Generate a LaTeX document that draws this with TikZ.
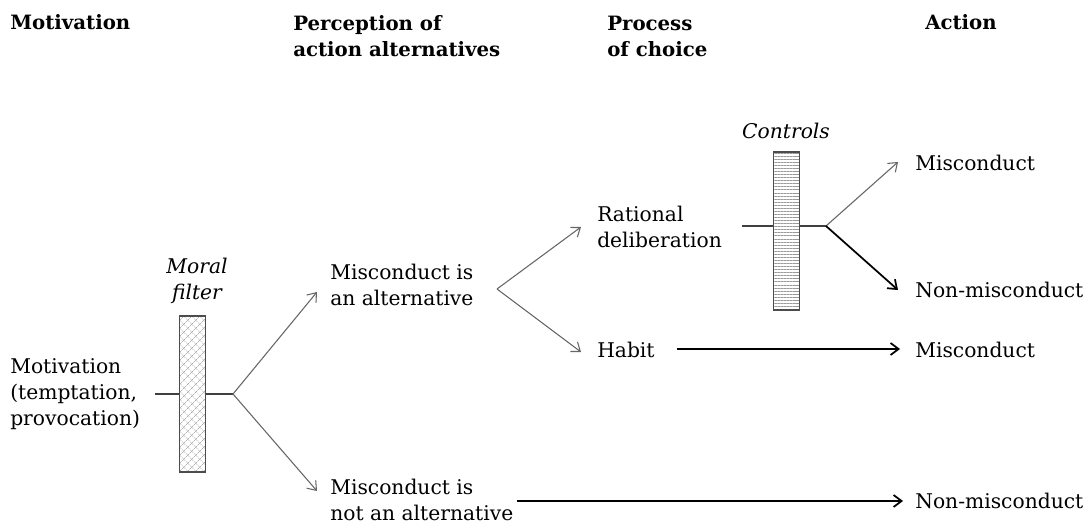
\documentclass[tikz,border=0pt]{standalone}
\usepackage{fontspec}
\setmainfont{DejaVu Serif}
\usepackage{tikz}
\usetikzlibrary{calc, positioning, arrows.meta, patterns.meta}
\tikzset{lbl/.style={anchor=west, align=left, inner sep=0pt, font=\fontsize{15.2}{19.5}\selectfont},
head/.style={lbl, font=\fontsize{14.8}{19.5}\selectfont\bfseries},
filterlbl/.style={align=center, inner sep=0pt, font=\fontsize{15.2}{19.5}\selectfont\itshape},
filterbox/.style={draw=black!70, line width=0.8pt, minimum width=20pt, inner sep=0pt},
thinline/.style={draw=black!75, line width=0.8pt},
grayarr/.style={draw=black!60, line width=0.8pt, -{Straight Barb[length=6pt,width=9pt]}},
blackarr/.style={draw=black, line width=1.3pt, -{Straight Barb[length=6pt,width=9pt]}}}

\begin{document}
\begin{tikzpicture}[x=0.75pt,y=-0.75pt]
 \useasboundingbox (0,0) rectangle (1092,524);

 %Column headings
 \node[head] (hmot) at (10,22) {Motivation};
 \node[head] (hper) at (293,36) {Perception of\\action alternatives};
 \node[head] (hpro) at (607,36) {Process\\of choice};
 \node[head] (hact) at (925,22) {Action};

 %Motivation and moral filter
 \node[lbl] (mot) at (10,394) {Motivation\\(temptation,\\provocation)};
 \node[filterbox, minimum height=117pt, pattern={Hatch[angle=45,distance=4pt,line width=0.4pt]}, pattern color=black!30] (moral) at (192.5,394) {};
 \node[filterlbl] (morallbl) at (197,281) {Moral\\filter};
 \coordinate (in1) at (155,394);
 \coordinate (b1) at (233,394);
 \draw[thinline] (in1) -- (moral.west);
 \draw[thinline] (moral.east) -- (b1);

 %Perception of alternatives
 \node[lbl] (alt) at (330,285) {Misconduct is\\an alternative};
 \node[lbl] (notalt) at (330,500) {Misconduct is\\not an alternative};
 \draw[grayarr] (b1) -- ([shift={(-13,7)}]alt.west);
 \draw[grayarr] (b1) -- ([shift={(-13,-9)}]notalt.west);

 %Process of choice
 \node[lbl] (rat) at (597,227) {Rational\\deliberation};
 \node[lbl] (hab) at (597,350) {Habit};
 \coordinate (b2) at (497,289);
 \draw[grayarr] (b2) -- ([shift={(-16,0)}]rat.west);
 \draw[grayarr] (b2) -- ([shift={(-16,2)}]hab.west);

 %Controls
 \node[filterbox, minimum height=118.5pt, pattern={Lines[angle=0,distance=2.3pt,line width=0.4pt]}, pattern color=black!40] (ctrl) at (786.5,231) {};
 \node[filterlbl] (ctrllbl) at (786,131) {Controls};
 \coordinate (in2) at (742,226);
 \coordinate (b3) at (826,226);
 \draw[thinline] (in2) -- (in2 -| ctrl.west);
 \draw[thinline] (in2 -| ctrl.east) -- (b3);

 %Actions
 \node[lbl] (mis1) at (915,163) {Misconduct};
 \node[lbl] (non1) at (915,290) {Non-misconduct};
 \node[lbl] (mis2) at (915,350) {Misconduct};
 \node[lbl] (non2) at (915,501) {Non-misconduct};
 \draw[grayarr] (b3) -- ([shift={(-17,-1)}]mis1.west);
 \draw[blackarr] (b3) -- ([shift={(-17,0)}]non1.west);
 \coordinate (h1) at (677,349);
 \coordinate (n1) at (517,501);
 \draw[blackarr] (h1) -- ([shift={(-15,-1)}]mis2.west);
 \draw[blackarr] (n1) -- ([shift={(-12,0)}]non2.west);

\end{tikzpicture}
\end{document}
